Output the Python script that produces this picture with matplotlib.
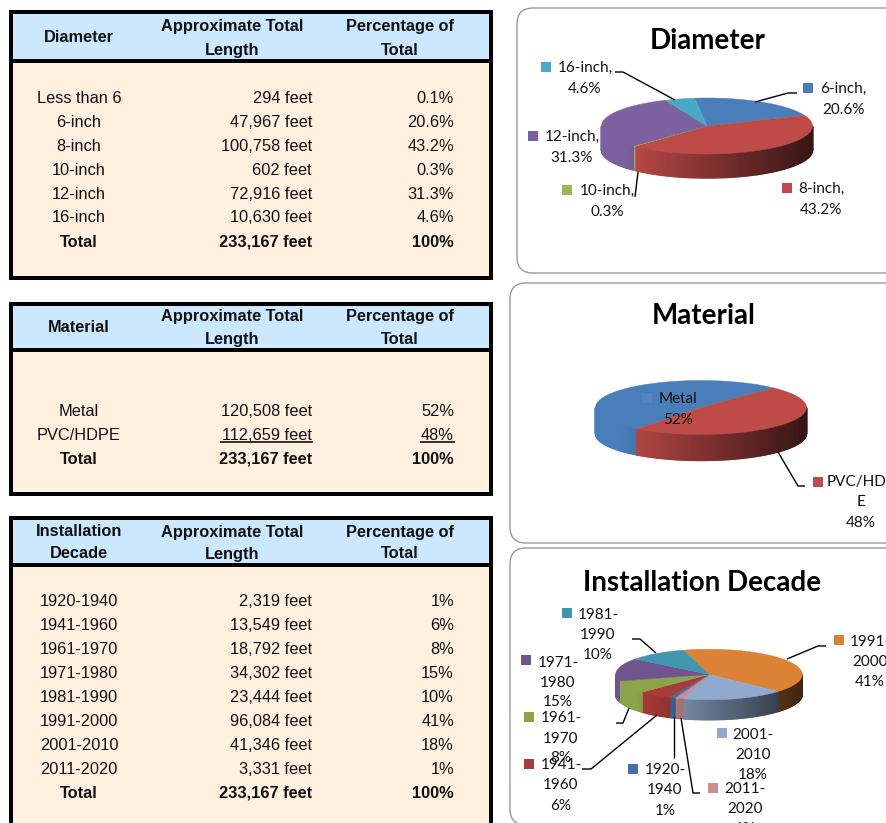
import numpy as np
from matplotlib import pyplot as plt
from matplotlib.colors import to_rgb
from matplotlib.patches import FancyBboxPatch, Rectangle

TABLE_FONT = 'Liberation Sans'
CHART_FONT = 'Lato'

diameter_names = ['Less than 6', '6-inch', '8-inch', '10-inch', '12-inch', '16-inch']
diameter_feet = [294, 47967, 100758, 602, 72916, 10630]
diameter_pct = ['0.1%', '20.6%', '43.2%', '0.3%', '31.3%', '4.6%']

material_names = ['Metal', 'PVC/HDPE']
material_feet = [120508, 112659]
material_pct = ['52%', '48%']

decade_names = ['1920-1940', '1941-1960', '1961-1970', '1971-1980',
                '1981-1990', '1991-2000', '2001-2010', '2011-2020']
decade_feet = [2319, 13549, 18792, 34302, 23444, 96084, 41346, 3331]
decade_pct = ['1%', '6%', '8%', '15%', '10%', '41%', '18%', '1%']

total_feet = 233167

# order the slices run clockwise round each pie
diameter_order = [0, 1, 2, 3, 4, 5]
material_order = [0, 1]
decade_order = [5, 6, 7, 0, 1, 2, 3, 4]

diameter_colors = ['#8a8a8a', '#4a7ebb', '#be4b48', '#98b954', '#7d60a0', '#46aac5']
material_colors = ['#4a7ebb', '#be4b48']
decade_colors = ['#dc8236', '#92a9cf', '#ce8d8c', '#4371a8', '#a83c3a', '#8ba44a', '#6f548e', '#3e97ae']


def draw_table(ax, top, bottom, header_bottom, first_head, head_lines, rows_y,
               names, feet, pct, total_y, underline_last=False):
    ax.add_patch(Rectangle((9, top), 484, bottom - top, fc='#fff0e0', ec='none', zorder=1))
    ax.add_patch(Rectangle((9, top), 484, header_bottom - top, fc='#cce8ff', ec='none', zorder=1))
    # thick black frame
    ax.add_patch(Rectangle((9, top), 4, bottom - top, fc='black', ec='none', zorder=2))
    ax.add_patch(Rectangle((489, top), 4, bottom - top, fc='black', ec='none', zorder=2))
    ax.add_patch(Rectangle((9, top), 484, 4, fc='black', ec='none', zorder=2))
    ax.add_patch(Rectangle((9, header_bottom - 2), 484, 4, fc='black', ec='none', zorder=2))
    ax.add_patch(Rectangle((9, bottom - 4), 484, 4, fc='black', ec='none', zorder=2))

    kw = dict(va='center', fontsize=11.8, family=TABLE_FONT, color='#111111', zorder=3)
    for text, y in first_head:
        ax.text(79, y + 1, text, ha='center', fontweight='bold', **kw)
    ax.text(232, head_lines[0] + 1, 'Approximate Total', ha='center', fontweight='bold', **kw)
    ax.text(232, head_lines[1] + 1, 'Length', ha='center', fontweight='bold', **kw)
    ax.text(400, head_lines[0] + 1, 'Percentage of', ha='center', fontweight='bold', **kw)
    ax.text(400, head_lines[1] + 1, 'Total', ha='center', fontweight='bold', **kw)

    for i, y in enumerate(rows_y):
        ax.text(79, y + 1, names[i], ha='center', **kw)
        ax.text(312, y + 1, f'{feet[i]:,} feet', ha='right', **kw)
        ax.text(454, y + 1, pct[i], ha='right', **kw)

    if underline_last:
        y = rows_y[-1] + 7.5
        ax.plot([221, 312], [y, y], color='#111111', lw=1.2, zorder=3)
        ax.plot([421, 454], [y, y], color='#111111', lw=1.2, zorder=3)

    ax.text(79, total_y + 1, 'Total', ha='center', fontweight='bold', **kw)
    ax.text(312, total_y + 1, f'{total_feet:,} feet', ha='right', fontweight='bold', **kw)
    ax.text(454, total_y + 1, '100%', ha='right', fontweight='bold', **kw)


def shade(color, f):
    return tuple(np.clip(np.array(to_rgb(color)) * f, 0, 1))


def draw_pie(ax, cx, cy, rx, ry, depth, feet, order, colors, start):
    vals = np.array([feet[i] for i in order], dtype=float)
    sweep = vals / vals.sum() * 360
    edges = start + np.concatenate([[0], np.cumsum(sweep)])

    # side wall, only the front half of the rim shows
    for k in range(len(vals)):
        a0, a1 = edges[k], edges[k + 1]
        for turn in (-360, 0, 360):
            lo, hi = max(a0 + turn, 90), min(a1 + turn, 270)
            if hi <= lo:
                continue
            steps = np.append(np.arange(lo, hi, 1.0), hi)
            for t0, t1 in zip(steps[:-1], steps[1:]):
                s = np.sin(np.radians((t0 + t1) / 2))
                f = min(1.0, 0.68 - 0.40 * s)
                xs0, xs1 = cx + rx * np.sin(np.radians([t0, t1]))
                ys0, ys1 = cy - ry * np.cos(np.radians([t0, t1]))
                ax.fill([xs0, xs1, xs1, xs0], [ys0, ys1, ys1 + depth, ys0 + depth],
                        color=shade(colors[k], f), lw=1.0, zorder=5)

    # top face
    for k in range(len(vals)):
        t = np.radians(np.linspace(edges[k], edges[k + 1], 80))
        xs = np.concatenate([[cx], cx + rx * np.sin(t)])
        ys = np.concatenate([[cy], cy - ry * np.cos(t)])
        ax.fill(xs, ys, color=colors[k], lw=0.3, zorder=6)


def legend_label(ax, square, color, lines, x, ys):
    ax.add_patch(Rectangle((square[0], square[1]), 10, 10, fc=color, ec='none', zorder=8))
    for text, y in zip(lines, ys):
        ax.text(x, y + 1, text, ha='center', va='center', fontsize=11, family=CHART_FONT,
                color='#111111', zorder=9)


def leader(ax, xs, ys):
    ax.plot(xs, ys, color='black', lw=1.0, zorder=7, solid_capstyle='butt')


fig = plt.figure(figsize=(8.87, 8.23), dpi=100)
ax = fig.add_axes([0, 0, 1, 1])
ax.set_xlim(0, 887)
ax.set_ylim(823, 0)
ax.axis('off')

draw_table(ax, 10, 280, 61, [('Diameter', 36)], (25, 49),
           [97, 121, 145, 169, 193, 216], diameter_names, diameter_feet, diameter_pct, 241)
draw_table(ax, 302, 496, 350, [('Material', 326)], (315, 338),
           [410, 434], material_names, material_feet, material_pct, 458, underline_last=True)
draw_table(ax, 516, 850, 565, [('Installation', 531), ('Decade', 552)], (531, 553),
           [601, 625, 649, 673, 697, 720, 744, 768], decade_names, decade_feet, decade_pct, 792)

# chart panels
for x, y0, y1 in [(517, 8, 273), (510, 283, 543), (510, 548, 825)]:
    ax.add_patch(FancyBboxPatch((x + 16, y0 + 16), 500, y1 - y0 - 32,
                                boxstyle='round,pad=16,rounding_size=16',
                                fc='white', ec='#9a9a9a', lw=1.0, zorder=1))

title_kw = dict(ha='center', va='center', fontsize=20, fontweight='bold', family=CHART_FONT, zorder=9)
ax.text(708, 41, 'Diameter', **title_kw)
ax.text(704, 316, 'Material', **title_kw)
ax.text(702, 583, 'Installation Decade', **title_kw)

# diameter pie
draw_pie(ax, 707, 126, 105.5, 28, 24, diameter_feet, diameter_order, diameter_colors, -6.8)
leader(ax, [615, 623, 675], [72, 72, 100])
leader(ax, [755, 788, 797], [102, 93, 93])
leader(ax, [635, 638], [197, 172])
legend_label(ax, (541, 62), diameter_colors[5], ['16-inch,', diameter_pct[5]], 585, [67, 88])
legend_label(ax, (803, 83), diameter_colors[1], ['6-inch,', diameter_pct[1]], 843, [88, 109])
legend_label(ax, (528, 131), diameter_colors[4], ['12-inch,', diameter_pct[4]], 572, [136, 157])
legend_label(ax, (562, 185), diameter_colors[3], ['10-inch,', diameter_pct[3]], 607, [190, 211])
legend_label(ax, (782, 183), diameter_colors[2], ['8-inch,', diameter_pct[2]], 821, [188, 209])

# material pie
draw_pie(ax, 701, 407.5, 105.5, 27, 26, material_feet, material_order, material_colors, 217.4)
leader(ax, [778, 798, 805], [452, 486, 486])
legend_label(ax, (642, 393), '#5585c0', ['Metal', material_pct[0]], 678, [398, 419])
legend_label(ax, (813, 477), material_colors[1], ['PVC/HDP', 'E', material_pct[1]], 861, [481, 501, 522])

# decade pie
draw_pie(ax, 709, 674.5, 93.3, 25.3, 20, decade_feet, decade_order, decade_colors, -16)
leader(ax, [632, 640, 656], [639, 639, 653])
leader(ax, [787, 818, 826], [659, 646, 646])
leader(ax, [629, 623, 616], [708, 723, 723])
leader(ax, [657, 591, 582], [715, 769, 769])
leader(ax, [674, 674], [717, 758])
leader(ax, [681, 693, 700], [718, 793, 793])
legend_label(ax, (562, 608), decade_colors[7], ['1981-', '1990', decade_pct[4]], 598, [614, 634, 654])
legend_label(ax, (834, 635), decade_colors[0], ['1991-', '2000', decade_pct[5]], 870, [641, 661, 681])
legend_label(ax, (521, 655), decade_colors[6], ['1971-', '1980', decade_pct[3]], 558, [662, 682, 701])
legend_label(ax, (524, 712), decade_colors[5], ['1961-', '1970', decade_pct[2]], 561, [717, 738, 757])
legend_label(ax, (524, 759), decade_colors[4], ['1941-', '1960', decade_pct[1]], 561, [764, 784, 805])
legend_label(ax, (628, 764), decade_colors[3], ['1920-', '1940', decade_pct[0]], 665, [769, 789, 810])
legend_label(ax, (708, 783), decade_colors[2], ['2011-', '2020', decade_pct[7]], 745, [788, 808, 828])
legend_label(ax, (717, 728), decade_colors[1], ['2001-', '2010', decade_pct[6]], 753, [734, 754, 774])

fig.savefig('out.png', dpi=100)
